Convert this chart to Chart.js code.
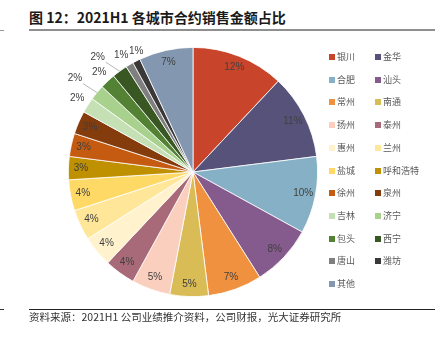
<!DOCTYPE html>
<html>
<head>
<meta charset="utf-8">
<script src="https://cdn.jsdelivr.net/npm/chart.js@4.4.1/dist/chart.umd.min.js"></script>
<style>
  html, body { margin:0; padding:0; background:#fff; }
  body { width:446px; height:344px; position:relative; overflow:hidden; font-family:"Noto Sans CJK SC", "Noto Sans", sans-serif; }
  #title { position:absolute; left:29px; top:7px; font-size:14px; font-weight:bold; color:#1a1a1a; white-space:nowrap; line-height:20px; }
  #topline { position:absolute; left:29px; top:29px; width:406px; height:2px; background:#8f8f8f; }
  #botline { position:absolute; left:29px; top:309px; width:406px; height:1px; background:#222; }
  #source { position:absolute; left:29px; top:310px; font-size:10.5px; color:#333; white-space:nowrap; line-height:14px; }
  #wrap { position:absolute; left:43px; top:22px; width:300px; height:300px; }
  #legend { position:absolute; left:329px; top:51px; width:110px; z-index:2; }
  .item { position:absolute; font-size:9px; color:#595959; white-space:nowrap; line-height:12px; }
  .sw { display:inline-block; width:6px; height:6px; margin-right:2px; vertical-align:0px; }
  .tick { position:absolute; left:0; width:4px; height:1px; background:#999; }
</style>
</head>
<body>
<div id="title">图 12：2021H1 各城市合约销售金额占比</div>
<div id="topline"></div>
<div id="wrap"><canvas id="c"></canvas></div>
<div id="legend"></div>
<div id="botline"></div>
<div id="source">资料来源：2021H1 公司业绩推介资料，公司财报，光大证券研究所</div>
<div class="tick" style="top:30px"></div>
<div class="tick" style="top:309px;background:#333"></div>
<script>
const cities = ["银川","金华","合肥","汕头","常州","南通","扬州","泰州","惠州","兰州","盐城","呼和浩特","徐州","泉州","吉林","济宁","包头","西宁","唐山","潍坊","其他"];
const shares = [12,11,10,8,7,5,5,4,4,4,4,3,3,3,2,2,2,2,1,1,7];
const colors = ["#C8452B","#57527A","#86B0C5","#855A8C","#F0913F","#D9BC56","#FACFBE","#A86A79","#FFF2CC","#FFE699","#FFD966","#BF9000","#C55A11","#843C0C","#C5E0B4","#A9D18E","#548235","#385723","#7F7F7F","#3B3838","#8497B0"];

// legend (row-first, two columns)
const leg = document.getElementById('legend');
cities.forEach((name, i) => {
  const d = document.createElement('div');
  d.className = 'item';
  d.style.left = (i % 2 === 0 ? 0 : 46) + 'px';
  d.style.top = (Math.floor(i / 2) * 22.7) + 'px';
  d.innerHTML = '<span class="sw" style="background:' + colors[i] + '"></span>' + name;
  leg.appendChild(d);
});

const farSet = new Set([15, 17]);
const labelPlugin = {
  id: 'pctLabels',
  afterDatasetsDraw(chart) {
    const ctx = chart.ctx;
    const meta = chart.getDatasetMeta(0);
    ctx.save();
    ctx.font = '10px "Liberation Sans", Arial, sans-serif';
    ctx.textAlign = 'center';
    ctx.textBaseline = 'middle';
    meta.data.forEach((arc, i) => {
      const p = arc.getProps(['x','y','startAngle','endAngle','outerRadius'], true);
      const mid = (p.startAngle + p.endAngle) / 2;
      const v = shares[i];
      const cx = Math.cos(mid), cy = Math.sin(mid);
      ctx.fillStyle = '#404040';
      if (v <= 2 && farSet.has(i)) {
        const ex = p.x + cx * p.outerRadius, ey = p.y + cy * p.outerRadius;
        ctx.strokeStyle = '#a6a6a6';
        ctx.lineWidth = 0.8;
        ctx.beginPath();
        ctx.moveTo(ex, ey);
        ctx.lineTo(ex - 14, ey - 9);
        ctx.stroke();
        ctx.fillText(v + '%', ex - 22, ey - 14);
        return;
      }
      const k = v <= 2 ? (v === 1 ? 1.085 : 1.1) : 0.9;
      const dx = v === 1 ? (i % 2 === 0 ? -3 : 4.5) : 0;
      ctx.fillText(v + '%', p.x + cx * p.outerRadius * k + dx, p.y + cy * p.outerRadius * k);
    });
    ctx.restore();
  }
};

new Chart(document.getElementById('c'), {
  type: 'pie',
  data: {
    labels: cities,
    datasets: [{ data: shares, backgroundColor: colors, borderColor: '#ffffff', borderWidth: 0.8 }]
  },
  options: {
    responsive: true,
    maintainAspectRatio: false,
    animation: false,
    layout: { padding: 25 },
    plugins: { legend: { display: false }, tooltip: { enabled: false } }
  },
  plugins: [labelPlugin]
});
</script>
</body>
</html>
